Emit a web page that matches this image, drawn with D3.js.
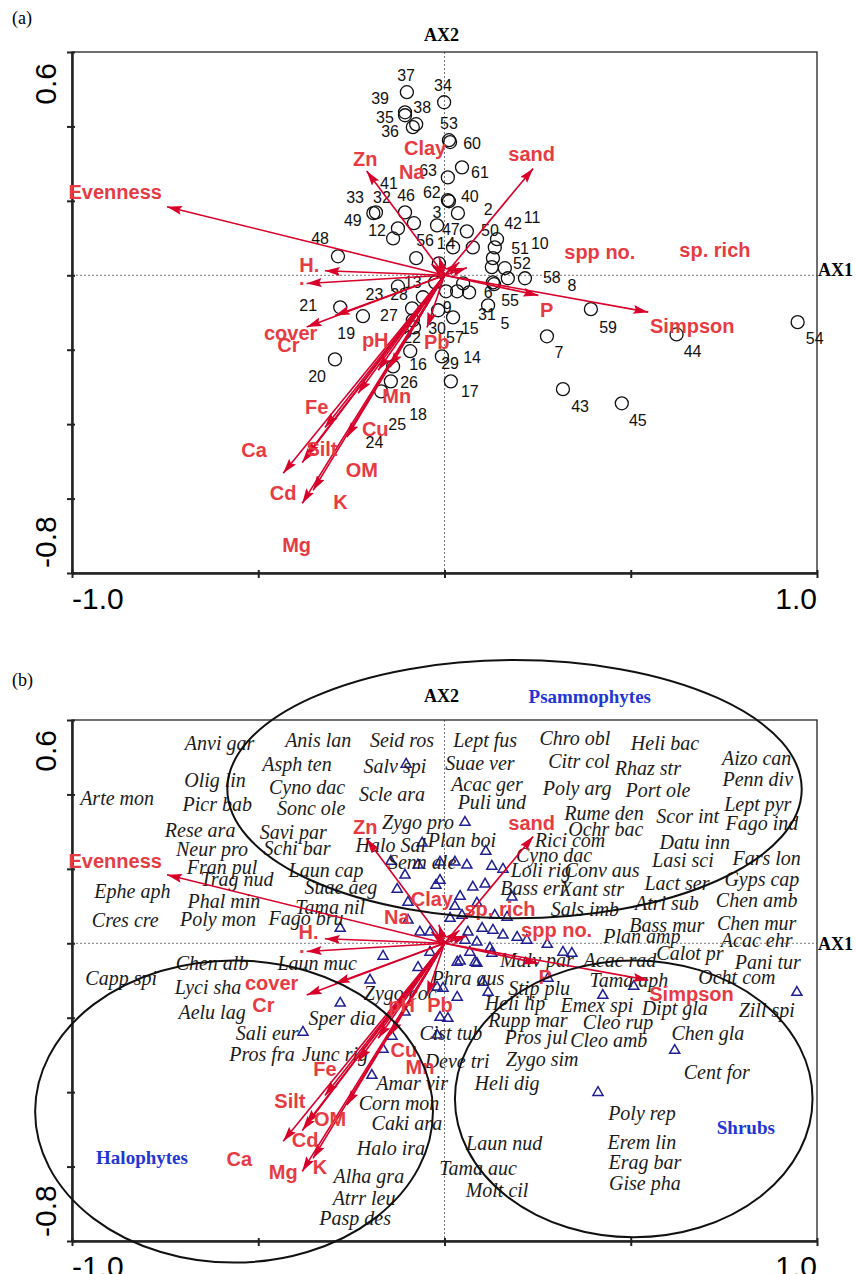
<!DOCTYPE html>
<html>
<head>
<meta charset="utf-8">
<script src="https://cdn.jsdelivr.net/npm/d3@7"></script>
<style>
  body { margin: 0; background: #fff; }
  svg { display: block; }
</style>
</head>
<body>
<svg id="chart" width="856" height="1274"></svg>
<script>
// ---- axis ticks ----
const xTicks = [-1, -0.5, 0, 0.5, 1];
const yTicks = [-0.8, -0.6, -0.4, -0.2, 0, 0.2, 0.4, 0.6];
const xEndLabels = ["-1.0", "1.0"];
const yEndLabels = ["-0.8", "0.6"];

// ---- environmental vectors (same scores in both panels) ----
const envNames = ["Evenness", "Zn", "Clay", "Na", "sand", "sp. rich", "spp no.", "H.", ".", "P", "Simpson",
  "cover", "Cr", "pH", "Pb", "Mn", "Cu", "Fe", "OM", "Silt", "Cd", "Ca", "K", "Mg"];
const envX = [-0.745, -0.209, -0.015, -0.035, 0.238, 0.040, 0.060, -0.321, -0.370, 0.252, 0.547,
  -0.294, -0.370, -0.146, -0.047, -0.178, -0.232, -0.321, -0.262, -0.372, -0.382, -0.433, -0.353, -0.382];
const envY = [0.184, 0.280, 0.050, 0.030, 0.287, 0.035, 0.020, 0.012, -0.022, -0.054, -0.099,
  -0.108, -0.139, -0.247, -0.140, -0.255, -0.317, -0.409, -0.435, -0.487, -0.503, -0.532, -0.578, -0.613];
// label placement is not the same in the two panels
const envLabelA = [[-0.884, 0.223], [-0.213, 0.312], [-0.052, 0.343], [-0.088, 0.278], [0.234, 0.325],
  [0.726, 0.067], [0.417, 0.063], [-0.363, 0.027], [-0.383, -0.008], [0.274, -0.092], [0.665, -0.136],
  [-0.413, -0.155], [-0.419, -0.188], [-0.186, -0.173], [-0.021, -0.179], [-0.128, -0.325], [-0.186, -0.414],
  [-0.343, -0.354], [-0.222, -0.522], [-0.329, -0.466], [-0.433, -0.584], [-0.511, -0.469], [-0.279, -0.609],
  [-0.397, -0.726]];
const envLabelB = [[-0.884, 0.221], [-0.213, 0.313], [-0.034, 0.120], [-0.128, 0.071], [0.234, 0.322],
  [0.149, 0.093], [0.301, 0.035], [-0.365, 0.030], [-0.383, -0.008], [0.270, -0.091], [0.663, -0.135],
  [-0.464, -0.108], [-0.486, -0.167], [-0.115, -0.167], [-0.012, -0.167], [-0.066, -0.333], [-0.109, -0.288],
  [-0.321, -0.337], [-0.307, -0.471], [-0.415, -0.424], [-0.374, -0.528], [-0.551, -0.579], [-0.334, -0.601],
  [-0.433, -0.615]];

// ---- sites (panel a): id, AX1, AX2, label AX1, label AX2 ----
const sites = [
  [1, 0.023, 0.075, -0.009, 0.086], [2, 0.036, 0.167, 0.117, 0.177], [3, -0.020, 0.134, -0.020, 0.169],
  [4, -0.015, 0.032, 0.017, 0.086], [5, 0.050, -0.022, 0.162, -0.129], [6, 0.133, -0.024, 0.117, -0.046],
  [7, 0.275, -0.164, 0.307, -0.207], [8, 0.170, -0.008, 0.342, -0.027], [9, 0.023, -0.113, 0.007, -0.086],
  [10, 0.130, 0.046, 0.256, 0.086], [11, 0.135, 0.075, 0.235, 0.156], [12, -0.138, 0.099, -0.181, 0.121],
  [13, -0.025, -0.019, -0.085, -0.019], [14, 0.066, -0.046, 0.074, -0.220], [15, 0.034, -0.043, 0.068, -0.142],
  [16, -0.138, -0.245, -0.071, -0.239], [17, 0.017, -0.285, 0.068, -0.312], [18, -0.092, -0.204, -0.071, -0.374],
  [19, -0.219, -0.110, -0.264, -0.156], [20, -0.294, -0.226, -0.342, -0.272], [21, -0.280, -0.086, -0.366, -0.081],
  [22, -0.082, -0.140, -0.087, -0.167], [23, -0.125, -0.030, -0.188, -0.051], [24, -0.085, -0.121, -0.188, -0.449],
  [25, -0.170, -0.312, -0.127, -0.401], [26, -0.144, -0.285, -0.095, -0.288], [27, -0.087, -0.089, -0.149, -0.108],
  [28, -0.058, -0.059, -0.122, -0.051], [29, -0.007, -0.218, 0.015, -0.237], [30, -0.017, -0.094, -0.020, -0.142],
  [31, 0.117, -0.081, 0.114, -0.105], [32, -0.125, 0.126, -0.168, 0.210], [33, -0.184, 0.169, -0.240, 0.210],
  [34, -0.001, 0.465, -0.004, 0.511], [35, -0.106, 0.430, -0.160, 0.425], [36, -0.085, 0.398, -0.146, 0.387],
  [37, -0.101, 0.492, -0.103, 0.538], [38, -0.076, 0.406, -0.060, 0.452], [39, -0.106, 0.438, -0.173, 0.476],
  [40, 0.012, 0.199, 0.068, 0.212], [41, -0.106, 0.169, -0.149, 0.247], [42, 0.141, 0.097, 0.184, 0.140],
  [43, 0.318, -0.306, 0.364, -0.352], [44, 0.623, -0.159, 0.666, -0.204], [45, 0.476, -0.344, 0.519, -0.390],
  [46, -0.082, 0.140, -0.103, 0.215], [47, 0.060, 0.118, 0.017, 0.124], [48, -0.286, 0.051, -0.334, 0.099],
  [49, -0.191, 0.167, -0.246, 0.148], [50, 0.076, 0.075, 0.122, 0.121], [51, 0.127, 0.022, 0.203, 0.073],
  [52, 0.162, 0.019, 0.208, 0.032], [53, 0.012, 0.363, 0.012, 0.409], [54, 0.948, -0.126, 0.994, -0.169],
  [55, 0.130, -0.019, 0.176, -0.067], [56, -0.076, 0.046, -0.052, 0.094], [57, 0.004, -0.043, 0.028, -0.167],
  [58, 0.216, -0.008, 0.288, -0.005], [59, 0.393, -0.091, 0.439, -0.140], [60, 0.015, 0.358, 0.074, 0.355],
  [61, 0.047, 0.290, 0.095, 0.277], [62, 0.009, 0.202, -0.034, 0.223], [63, 0.009, 0.263, -0.044, 0.282]
];

// ---- species scores (panel b, triangles) ----
const speciesPoints = [
  [-0.103, 0.481], [0.055, 0.325], [-0.060, 0.269], [0.111, 0.247], [-0.144, 0.220], [-0.071, 0.210],
  [-0.012, 0.218], [0.028, 0.218], [0.060, 0.210], [0.127, 0.207], [0.157, 0.199], [-0.106, 0.183],
  [-0.012, 0.169], [-0.023, 0.156], [0.076, 0.151], [0.109, 0.159], [-0.127, 0.145], [0.042, 0.126],
  [0.181, 0.124], [-0.098, 0.110], [0.028, 0.099], [0.087, 0.108], [0.015, 0.067], [0.047, 0.075],
  [0.135, 0.075], [0.168, 0.070], [-0.280, 0.040], [-0.066, 0.030], [-0.039, 0.030], [-0.098, 0.062],
  [0.063, 0.030], [0.101, 0.040], [0.130, 0.035], [0.157, 0.022], [0.195, 0.016], [0.221, 0.008],
  [0.276, -0.003], [0.087, 0.003], [0.055, 0.008], [-0.165, -0.035], [-0.039, -0.024], [-0.071, -0.065],
  [0.034, -0.051], [0.042, -0.048], [0.082, -0.051], [0.068, -0.024], [0.122, -0.013], [-0.200, -0.099],
  [-0.004, -0.121], [0.034, -0.145], [0.103, -0.105], [0.117, -0.132], [-0.280, -0.161], [-0.106, -0.185],
  [-0.012, -0.199], [0.009, -0.202], [-0.380, -0.239], [-0.141, -0.250], [-0.020, -0.247], [-0.165, -0.285],
  [-0.195, -0.355], [0.087, -0.054], [0.127, -0.027], [0.342, -0.027], [0.278, -0.094], [-0.020, -0.118],
  [0.425, -0.140], [0.508, -0.116], [0.946, -0.132], [0.618, -0.288], [0.412, -0.401], [0.318, -0.024]
];

// ---- species names and where their labels sit (panel b) ----
const speciesLabels = [
  ["Anvi gar", -0.604, 0.537], ["Anis lan", -0.339, 0.546], ["Seid ros", -0.114, 0.546], ["Asph ten", -0.396, 0.481],
  ["Salv spi", -0.133, 0.476], ["Olig lin", -0.616, 0.438], ["Cyno dac", -0.369, 0.419], ["Arte mon", -0.879, 0.390],
  ["Scle ara", -0.141, 0.401], ["Picr bab", -0.610, 0.374], ["Sonc ole", -0.358, 0.363], ["Zygo pro", -0.071, 0.325],
  ["Rese ara", -0.656, 0.304], ["Savi par", -0.406, 0.298], ["Plan boi", 0.047, 0.277], ["Neur pro", -0.624, 0.253],
  ["Schi bar", -0.396, 0.255], ["Halo Sal", -0.144, 0.263], ["Fran pul", -0.597, 0.204], ["Laun cap", -0.318, 0.196],
  ["Senn ale", -0.060, 0.218], ["Trag nud", -0.557, 0.172], ["Suae aeg", -0.278, 0.151], ["Ephe aph", -0.838, 0.140],
  ["Phal min", -0.592, 0.113], ["Tama nil", -0.307, 0.097], ["Cres cre", -0.857, 0.062], ["Poly mon", -0.608, 0.065],
  ["Fago bru", -0.372, 0.067], ["Lept fus", 0.109, 0.546], ["Chro obl", 0.350, 0.551], ["Heli bac", 0.592, 0.538],
  ["Suae ver", 0.095, 0.484], ["Citr col", 0.361, 0.489], ["Rhaz str", 0.546, 0.470], ["Aizo can", 0.838, 0.497],
  ["Acac ger", 0.114, 0.427], ["Poly arg", 0.356, 0.417], ["Port ole", 0.573, 0.411], ["Penn div", 0.841, 0.441],
  ["Puli und", 0.127, 0.379], ["Lept pyr", 0.841, 0.374], ["Rume den", 0.428, 0.349], ["Scor int", 0.653, 0.341],
  ["Fago ind", 0.852, 0.323], ["Ochr bac", 0.433, 0.306], ["Rici com", 0.337, 0.277], ["Datu inn", 0.672, 0.272],
  ["Cyno dac", 0.294, 0.237], ["Lasi sci", 0.640, 0.223], ["Fars lon", 0.865, 0.228], ["Loli rig", 0.259, 0.196],
  ["Conv aus", 0.423, 0.196], ["Lact ser", 0.624, 0.161], ["Gyps cap", 0.852, 0.172], ["Bass eri", 0.237, 0.148],
  ["Xant str", 0.396, 0.145], ["Atri sub", 0.597, 0.108], ["Chen amb", 0.838, 0.116], ["Sals imb", 0.377, 0.091],
  ["Bass mur", 0.597, 0.048], ["Chen mur", 0.838, 0.054], ["Plan amp", 0.530, 0.019], ["Acac ehr", 0.838, 0.008],
  ["Calot pr", 0.659, -0.027], ["Pani tur", 0.868, -0.051], ["Malv par", 0.248, -0.046], ["Acac rad", 0.471, -0.046],
  ["Tama aph", 0.495, -0.099], ["Ocht com", 0.785, -0.091], ["Stip plu", 0.254, -0.121], ["Zill spi", 0.865, -0.180],
  ["Emex spi", 0.409, -0.167], ["Dipt gla", 0.618, -0.175], ["Heli lip", 0.189, -0.161], ["Rupp mar", 0.224, -0.207],
  ["Cleo rup", 0.466, -0.212], ["Chen gla", 0.707, -0.242], ["Pros jul", 0.246, -0.253], ["Cleo amb", 0.441, -0.261],
  ["Zygo sim", 0.262, -0.312], ["Cent for", 0.731, -0.347], ["Heli dig", 0.168, -0.376], ["Poly rep", 0.530, -0.457],
  ["Laun nud", 0.160, -0.538], ["Erem lin", 0.530, -0.535], ["Erag bar", 0.538, -0.589], ["Tama auc", 0.090, -0.605],
  ["Gise pha", 0.538, -0.645], ["Molt cil", 0.141, -0.664], ["Laun muc", -0.342, -0.054], ["Phra aus", 0.063, -0.094],
  ["Zygo coc", -0.119, -0.134], ["Sper dia", -0.275, -0.202], ["Cist tub", 0.017, -0.242], ["Deve tri", 0.034, -0.315],
  ["Amar vir", -0.087, -0.376], ["Corn mon", -0.122, -0.430], ["Caki ara", -0.101, -0.484], ["Halo ira", -0.144, -0.551],
  ["Alha gra", -0.203, -0.624], ["Atrr leu", -0.216, -0.685], ["Pasp des", -0.240, -0.737], ["Chen alb", -0.624, -0.054],
  ["Capp spi", -0.868, -0.094], ["Lyci sha", -0.635, -0.118], ["Aelu lag", -0.624, -0.185], ["Sali eur", -0.476, -0.242],
  ["Pros fra", -0.490, -0.298], ["Junc rig", -0.294, -0.298]
];

// ---- species groups (ellipses in panel b) ----
const groupNames = ["Psammophytes", "Halophytes", "Shrubs"];
const groupCentre = [[0.188, 0.414], [-0.565, -0.452], [0.508, -0.418]];
const groupRadii = [[0.771, 0.347], [0.534, 0.406], [0.480, 0.372]];
const groupLabelPos = [[0.390, 0.664], [-0.812, -0.575], [0.809, -0.495]];

// ---------------------------------------------------------------
const svg = d3.select("#chart");
const x = d3.scaleLinear().domain([-1, 1]).range([72, 817]);

const RED_LINE = "#d8002a";
const RED_TEXT = "#e63b43";
const SANS = "'Liberation Sans', Arial, sans-serif";
const SERIF = "'Liberation Serif', 'Times New Roman', serif";

svg.append("defs").append("marker")
  .attr("id", "head")
  .attr("markerUnits", "userSpaceOnUse")
  .attr("markerWidth", 16).attr("markerHeight", 10)
  .attr("refX", 15).attr("refY", 4.5)
  .attr("orient", "auto")
  .append("path")
  .attr("d", "M0,0 L15,4.5 L0,9 L2.5,4.5 Z")
  .attr("fill", RED_LINE);

const panelA = { top: 52, bottom: 573, tag: "(a)", tagY: 24, ax2Y: 41, ax1Dy: 1, topLabDy: 11, botLabDy: -5 };
const panelB = { top: 720, bottom: 1241, tag: "(b)", tagY: 686, ax2Y: 702, ax1Dy: 7, topLabDy: 10, botLabDy: -4 };

function drawFrame(p) {
  const y = d3.scaleLinear().domain([-0.8, 0.6]).range([p.bottom, p.top]);
  const g = svg.append("g");

  // dotted zero lines
  g.append("line").attr("x1", x(0)).attr("x2", x(0)).attr("y1", y(0.6)).attr("y2", y(-0.8))
    .attr("stroke", "#777").attr("stroke-width", 1).attr("stroke-dasharray", "2,2");
  g.append("line").attr("x1", x(-1)).attr("x2", x(1)).attr("y1", y(0)).attr("y2", y(0))
    .attr("stroke", "#777").attr("stroke-width", 1).attr("stroke-dasharray", "2,2");

  // box
  g.append("rect").attr("x", x(-1)).attr("y", y(0.6))
    .attr("width", x(1) - x(-1)).attr("height", y(-0.8) - y(0.6))
    .attr("fill", "none").attr("stroke", "#222").attr("stroke-width", 1.3);

  // axes with ticks crossing the line
  const bottomOut = d3.axisBottom(x).tickValues(xTicks).tickSize(5).tickSizeOuter(0).tickFormat("");
  const bottomIn = d3.axisBottom(x).tickValues(xTicks).tickSize(-3).tickSizeOuter(0).tickFormat("");
  const leftOut = d3.axisLeft(y).tickValues(yTicks).tickSize(5).tickSizeOuter(0).tickFormat("");
  const leftIn = d3.axisLeft(y).tickValues(yTicks).tickSize(-3).tickSizeOuter(0).tickFormat("");
  [bottomOut, bottomIn].forEach(ax => {
    g.append("g").attr("transform", `translate(0,${y(-0.8)})`).call(ax)
      .call(s => s.selectAll("line,path").attr("stroke", "#222").attr("stroke-width", 2));
  });
  [leftOut, leftIn].forEach(ax => {
    g.append("g").attr("transform", `translate(${x(-1)},0)`).call(ax)
      .call(s => s.selectAll("line,path").attr("stroke", "#222").attr("stroke-width", 2));
  });

  // end labels only (CANOCO style)
  g.append("text").attr("x", x(-1)).attr("y", y(-0.8) + 36).attr("text-anchor", "start")
    .attr("font-family", SANS).attr("font-size", 30).text(xEndLabels[0]);
  g.append("text").attr("x", x(1)).attr("y", y(-0.8) + 36).attr("text-anchor", "end")
    .attr("font-family", SANS).attr("font-size", 30).text(xEndLabels[1]);
  g.append("text").attr("transform", `translate(56,${y(0.6) + p.topLabDy}) rotate(-90)`)
    .attr("text-anchor", "end").attr("font-family", SANS).attr("font-size", 30).text(yEndLabels[1]);
  g.append("text").attr("transform", `translate(56,${y(-0.8) + p.botLabDy}) rotate(-90)`)
    .attr("text-anchor", "start").attr("font-family", SANS).attr("font-size", 30).text(yEndLabels[0]);

  // axis names and panel tag
  g.append("text").attr("x", x(0) - 3).attr("y", p.ax2Y).attr("text-anchor", "middle")
    .attr("font-family", SERIF).attr("font-weight", "bold").attr("font-size", 18).text("AX2");
  g.append("text").attr("x", x(1) + 1).attr("y", y(0) + p.ax1Dy).attr("text-anchor", "start")
    .attr("font-family", SERIF).attr("font-weight", "bold").attr("font-size", 18).text("AX1");
  g.append("text").attr("x", 12).attr("y", p.tagY)
    .attr("font-family", SERIF).attr("font-size", 18).text(p.tag);

  return { g, y };
}

function drawVectors(g, y, labelPos) {
  g.selectAll(null).data(envNames).enter().append("line")
    .attr("x1", x(0)).attr("y1", y(0))
    .attr("x2", (d, i) => x(envX[i])).attr("y2", (d, i) => y(envY[i]))
    .attr("stroke", RED_LINE).attr("stroke-width", 1.6)
    .attr("marker-end", "url(#head)");
  g.selectAll(null).data(envNames).enter().append("text")
    .attr("x", (d, i) => x(labelPos[i][0])).attr("y", (d, i) => y(labelPos[i][1]))
    .attr("dy", "0.35em").attr("text-anchor", "middle")
    .attr("font-family", SANS).attr("font-weight", "bold").attr("font-size", 20)
    .attr("fill", RED_TEXT).text(d => d);
}

// ---------------- panel (a): sites ----------------
const A = drawFrame(panelA);
A.g.selectAll(null).data(sites).enter().append("circle")
  .attr("cx", d => x(d[1])).attr("cy", d => A.y(d[2])).attr("r", 6.5)
  .attr("fill", "none").attr("stroke", "#111").attr("stroke-width", 1.3);
A.g.selectAll(null).data(sites).enter().append("text")
  .attr("x", d => x(d[3])).attr("y", d => A.y(d[4])).attr("dy", "0.35em")
  .attr("text-anchor", "middle").attr("font-family", SANS).attr("font-size", 16)
  .attr("fill", "#111").text(d => d[0]);
drawVectors(A.g, A.y, envLabelA);

// ---------------- panel (b): species ----------------
const B = drawFrame(panelB);
B.g.selectAll(null).data(speciesPoints).enter().append("path")
  .attr("d", d3.symbol(d3.symbolTriangle, 44))
  .attr("transform", d => `translate(${x(d[0])},${B.y(d[1])})`)
  .attr("fill", "none").attr("stroke", "#1f1f92").attr("stroke-width", 1.5);
B.g.selectAll(null).data(speciesLabels).enter().append("text")
  .attr("x", d => x(d[1])).attr("y", d => B.y(d[2])).attr("dy", "0.35em")
  .attr("text-anchor", "middle").attr("font-family", SERIF).attr("font-style", "italic")
  .attr("font-size", 20).attr("fill", "#1b1b1b").text(d => d[0]);
drawVectors(B.g, B.y, envLabelB);

B.g.selectAll(null).data(groupNames).enter().append("ellipse")
  .attr("cx", (d, i) => x(groupCentre[i][0])).attr("cy", (d, i) => B.y(groupCentre[i][1]))
  .attr("rx", (d, i) => x(groupRadii[i][0]) - x(0)).attr("ry", (d, i) => B.y(0) - B.y(groupRadii[i][1]))
  .attr("fill", "none").attr("stroke", "#111").attr("stroke-width", 2);
B.g.selectAll(null).data(groupNames).enter().append("text")
  .attr("x", (d, i) => x(groupLabelPos[i][0])).attr("y", (d, i) => B.y(groupLabelPos[i][1]))
  .attr("dy", "0.35em").attr("text-anchor", "middle")
  .attr("font-family", SERIF).attr("font-weight", "bold").attr("font-size", 19)
  .attr("fill", "#2236d4").text(d => d);
</script>
</body>
</html>
